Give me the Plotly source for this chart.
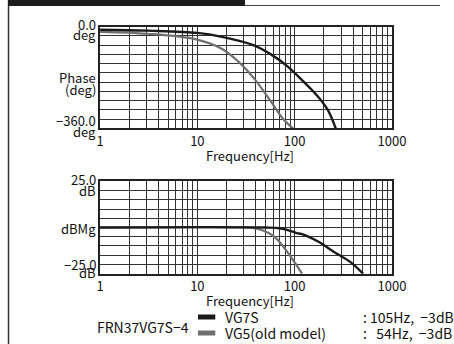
import plotly.graph_objects as go

W, H = 454, 344

# ---------------- data ----------------
phase_freq_vg7s = [1, 3.1, 10, 17.9, 38.2, 57, 81.5, 119, 174, 219, 264]
phase_vg7s = [-10.6, -14, -22, -36, -66, -98, -136, -189, -248, -295, -360]
phase_freq_vg5 = [1, 3.1, 9.7, 17.8, 26.1, 38.2, 55.8, 75.5, 96]
phase_vg5 = [-18, -25, -45, -78, -122, -183, -260, -325, -360]

mag_freq_vg7s = [1, 50, 70, 90, 105, 119, 174, 254, 372, 505]
mag_vg7s = [0, 0, -0.4, -1.8, -3, -3.6, -7.6, -13.2, -18.6, -25]
mag_freq_vg5 = [1, 30, 40, 54, 65, 81.5, 102, 119]
mag_vg5 = [0, 0, -0.5, -3, -6, -12.3, -19.6, -25]

x_tick_vals = [1, 10, 100, 1000]
x_tick_text = ["1", "10", "100", "1000"]
x_grid_vals = [m * 10 ** d for d in range(3) for m in range(1, 10)] + [1000]

phase_range = [-360, 0]
phase_grid = [-360 * k / 11 for k in range(12)]
mag_range = [-25, 25]
mag_grid = [-25 + 5 * k for k in range(11)]

series_names = ["VG7S", "VG5(old model)"]
series_notes = [": 105Hz,  \u22123dB", ":   54Hz,  \u22123dB"]
model_name = "FRN37VG7S\u22124"

BLACK = "#1a1a1a"
GRAY = "#707070"
FONT = "Noto Sans CJK JP"


def X(px):
    return px / W


def Y(py):
    return 1 - py / H


fig = go.Figure()
fig.add_trace(go.Scatter(x=phase_freq_vg5, y=phase_vg5, mode="lines", line=dict(color=GRAY, width=2.2, shape="spline"),
                         xaxis="x", yaxis="y", showlegend=False))
fig.add_trace(go.Scatter(x=phase_freq_vg7s, y=phase_vg7s, mode="lines", line=dict(color=BLACK, width=2.4, shape="spline"),
                         xaxis="x", yaxis="y", showlegend=False))
fig.add_trace(go.Scatter(x=mag_freq_vg5, y=mag_vg5, mode="lines", line=dict(color=GRAY, width=2.2, shape="spline"),
                         xaxis="x2", yaxis="y2", showlegend=False))
fig.add_trace(go.Scatter(x=mag_freq_vg7s, y=mag_vg7s, mode="lines", line=dict(color=BLACK, width=2.4, shape="spline"),
                         xaxis="x2", yaxis="y2", showlegend=False))

xdom = [X(100), X(404)]
dom1 = [Y(128.3), Y(26.7)]
dom2 = [Y(273.7), Y(181.3)]

common_x = dict(type="log", range=[0, 3], tickvals=x_grid_vals,
                ticktext=[x_tick_text[x_tick_vals.index(v)] if v in x_tick_vals else "" for v in x_grid_vals],
                showgrid=True, gridcolor="#333333", gridwidth=1, showline=True, linecolor="#222222",
                linewidth=1.5, mirror=True, ticks="", zeroline=False,
                tickfont=dict(family=FONT, size=13, color="#111111"))
common_y = dict(showgrid=True, gridcolor="#333333", gridwidth=1, showline=True, linecolor="#222222",
                linewidth=1.5, mirror=True, ticks="", zeroline=False, showticklabels=False)

fig.update_layout(
    width=W, height=H, margin=dict(l=0, r=0, t=0, b=0),
    paper_bgcolor="white", plot_bgcolor="white",
    xaxis=dict(domain=xdom, anchor="y", **common_x),
    yaxis=dict(domain=dom1, anchor="x", range=phase_range, tickvals=phase_grid, **common_y),
    xaxis2=dict(domain=xdom, anchor="y2", **common_x),
    yaxis2=dict(domain=dom2, anchor="x2", range=mag_range, tickvals=mag_grid, **common_y),
    font=dict(family=FONT, size=13, color="#111111"),
)

shapes = [
    dict(type="rect", xref="paper", yref="paper", x0=X(4), x1=X(251), y0=Y(0), y1=Y(6),
         fillcolor="#1c1c1c", line=dict(width=0)),
    dict(type="line", xref="paper", yref="paper", x0=X(4.7), x1=X(4.7), y0=Y(6), y1=Y(344),
         line=dict(color="#333333", width=1.5)),
    dict(type="line", xref="paper", yref="paper", x0=X(251), x1=X(454), y0=Y(5.5), y1=Y(5.5),
         line=dict(color="#444444", width=1.2)),
    dict(type="rect", xref="paper", yref="paper", x0=X(202), x1=X(220), y0=Y(314.5), y1=Y(319.5),
         fillcolor=BLACK, line=dict(width=0)),
    dict(type="rect", xref="paper", yref="paper", x0=X(202), x1=X(220), y0=Y(330.5), y1=Y(335.5),
         fillcolor=GRAY, line=dict(width=0)),
]
fig.update_layout(shapes=shapes)


def ann(text, px, py, xanchor="right", size=13):
    fig.add_annotation(text=text, xref="paper", yref="paper", x=X(px), y=Y(py), xanchor=xanchor,
                       yanchor="middle", showarrow=False, font=dict(family=FONT, size=size, color="#111111"))


ann("0.0", 98, 24)
ann("deg", 98, 35)
ann("Phase", 98, 78)
ann("(deg)", 98, 89)
ann("\u2212360.0", 98, 121)
ann("deg", 98, 131)
ann("Frequency[Hz]", 256, 155, xanchor="center")

ann("25.0", 98, 179)
ann("dB", 98, 190)
ann("dBMg", 98, 228.7)
ann("\u221225.0", 98, 264)
ann("dB", 98, 272)
ann("Frequency[Hz]", 256, 300, xanchor="center")

ann(model_name, 145, 327, xanchor="center", size=14)
ann(series_names[0], 228, 317, xanchor="left", size=14)
ann(series_names[1], 228, 333, xanchor="left", size=14)
ann(series_notes[0], 372, 317, xanchor="left", size=14)
ann(series_notes[1], 372, 333, xanchor="left", size=14)

fig.write_html("out.html", config={"displayModeBar": False},
               post_script="document.body.style.margin='0';document.body.style.overflow='hidden';")
